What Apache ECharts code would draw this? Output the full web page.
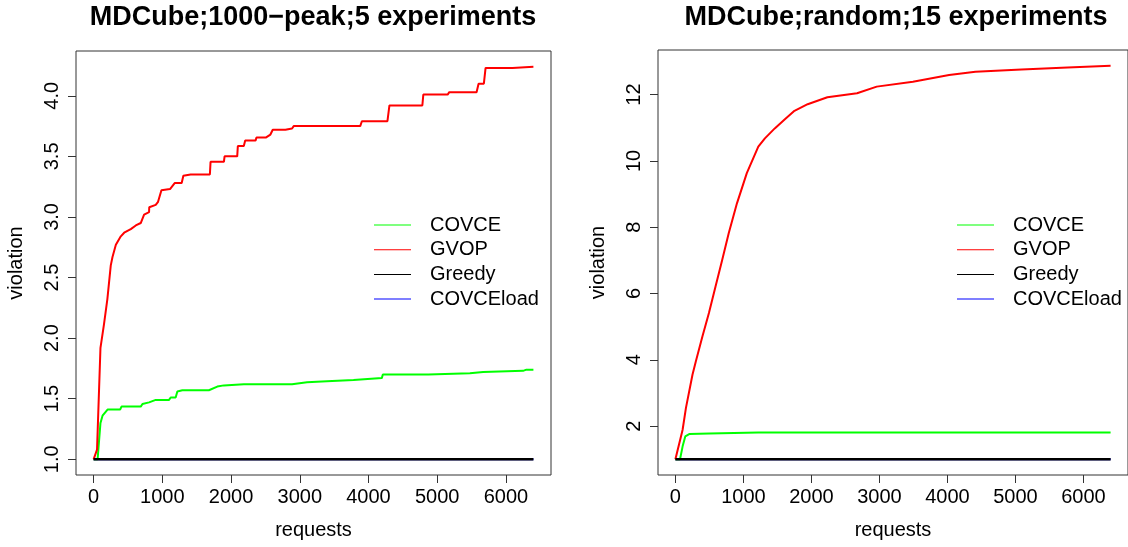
<!DOCTYPE html>
<html>
<head>
<meta charset="utf-8">
<script src="https://cdn.jsdelivr.net/npm/echarts/dist/echarts.min.js"></script>
<style>
  html, body { margin: 0; padding: 0; background: #fff; }
  #chart { width: 1128px; height: 547px; }
</style>
</head>
<body>
<div id="chart"></div>
<script>
// Tick positions for both panels
const requestTicks = [0, 1000, 2000, 3000, 4000, 5000, 6000];
const peakTicks = [1.0, 1.5, 2.0, 2.5, 3.0, 3.5, 4.0];
const randomTicks = [2, 4, 6, 8, 10, 12];

// Panel titles and series names
const titles = ['MDCube;1000\u2212peak;5 experiments', 'MDCube;random;15 experiments'];
const seriesNames = ['COVCE', 'GVOP', 'Greedy', 'COVCEload'];

// 1000-peak workload: [requests, violation]
const peakCovce = [[0, 1.0], [58, 1.0], [100, 1.30], [130, 1.36], [154, 1.375], [203, 1.41], [386, 1.41], [406, 1.435],
  [686, 1.435], [711, 1.456], [807, 1.47], [904, 1.49], [1098, 1.49], [1122, 1.51], [1194, 1.51], [1219, 1.56],
  [1291, 1.57], [1678, 1.57], [1702, 1.585], [1800, 1.60], [1896, 1.61], [2186, 1.62], [2888, 1.62], [3106, 1.635],
  [3396, 1.645], [3782, 1.655], [3807, 1.67], [4194, 1.67], [4209, 1.70], [4871, 1.70], [4896, 1.71], [5476, 1.71],
  [5501, 1.72], [5669, 1.72], [5694, 1.73], [6250, 1.73], [6299, 1.74], [6400, 1.74]];
const peakGvop = [[0, 1.0], [50, 1.08], [100, 1.92], [150, 2.11], [200, 2.32], [250, 2.60], [275, 2.67], [324, 2.77],
  [396, 2.84], [445, 2.87], [541, 2.90], [614, 2.93], [686, 2.95], [735, 3.02], [807, 3.04], [810, 3.08],
  [904, 3.10], [938, 3.125], [987, 3.22], [1112, 3.23], [1180, 3.28], [1282, 3.28], [1306, 3.34], [1412, 3.35],
  [1692, 3.35], [1702, 3.455], [1896, 3.455], [1906, 3.50], [2090, 3.50], [2099, 3.585], [2186, 3.585], [2206, 3.63],
  [2356, 3.63], [2370, 3.655], [2505, 3.655], [2573, 3.68], [2607, 3.72], [2791, 3.72], [2816, 3.73], [2888, 3.73],
  [2912, 3.75], [3880, 3.75], [3904, 3.79], [4276, 3.79], [4305, 3.92], [4784, 3.92], [4798, 4.01], [5152, 4.01],
  [5176, 4.03], [5573, 4.03], [5602, 4.10], [5679, 4.10], [5704, 4.23], [6096, 4.23], [6114, 4.24], [6400, 4.24]];
const peakGreedy = [[0, 1.0], [6400, 1.0]];
const peakCovceLoad = [[0, 1.0], [6400, 1.0]];

// random workload: [requests, violation]
const randomCovce = [[0, 1.0], [68, 1.0], [106, 1.39], [145, 1.69], [203, 1.76], [500, 1.78], [1219, 1.81], [6400, 1.81]];
const randomGvop = [[0, 1.0], [106, 1.89], [155, 2.55], [251, 3.55], [300, 3.95], [397, 4.70], [493, 5.41], [590, 6.21],
  [687, 7.0], [784, 7.82], [905, 8.72], [1050, 9.63], [1219, 10.43], [1316, 10.68], [1461, 10.98], [1606, 11.25],
  [1751, 11.51], [1945, 11.71], [2235, 11.92], [2671, 12.04], [2961, 12.24], [3493, 12.39], [4025, 12.59],
  [4412, 12.69], [5090, 12.76], [5767, 12.82], [6400, 12.87]];
const randomGreedy = [[0, 1.0], [6400, 1.0]];
const randomCovceLoad = [[0, 1.0], [6400, 1.0]];

const colors = { COVCE: '#00ff00', GVOP: '#ff0000', Greedy: '#000000', COVCEload: '#0000ff' };
const FONT = '"Liberation Sans", Arial, Helvetica, sans-serif';

// Axis range padded 4% on each side of the data extent
function paddedRange(seriesList, dim) {
  let lo = Infinity, hi = -Infinity;
  seriesList.forEach(s => s.forEach(p => { lo = Math.min(lo, p[dim]); hi = Math.max(hi, p[dim]); }));
  const d = (hi - lo) * 0.04;
  return [lo - d, hi + d];
}

const panels = [
  { data: { COVCE: peakCovce, GVOP: peakGvop, Greedy: peakGreedy, COVCEload: peakCovceLoad }, yTicks: peakTicks,
    yFmt: v => v.toFixed(1), grid: { left: 76, top: 51, width: 475, height: 424 }, center: 313, legendLeft: 374 },
  { data: { COVCE: randomCovce, GVOP: randomGvop, Greedy: randomGreedy, COVCEload: randomCovceLoad }, yTicks: randomTicks,
    yFmt: v => String(v), grid: { left: 658, top: 50, width: 476, height: 425 }, center: 896, legendLeft: 957 }
];

const axisText = { fontFamily: FONT, fontSize: 20, color: '#000' };

const option = {
  animation: false,
  backgroundColor: '#fff',
  title: panels.map((p, i) => ({
    text: titles[i], left: p.center, top: 4, textAlign: 'center', padding: 0,
    textStyle: { fontFamily: FONT, fontSize: 27, fontWeight: 'bold', color: '#000' }
  })),
  legend: panels.map((p, i) => ({
    data: seriesNames, orient: 'vertical', left: p.legendLeft, top: 215, padding: 0,
    icon: 'rect', itemWidth: 37, itemHeight: 1, itemGap: 4.7, selectedMode: false,
    textStyle: { fontFamily: FONT, fontSize: 20, color: '#000', lineHeight: 20, padding: [0, 0, 0, 14] }
  })),
  grid: panels.map(p => Object.assign({ show: true, borderColor: '#333', borderWidth: 1, backgroundColor: 'transparent' }, p.grid)),
  xAxis: panels.map((p, i) => {
    const r = paddedRange(Object.values(p.data), 0);
    return {
      type: 'value', gridIndex: i, min: r[0], max: r[1], position: 'bottom',
      name: 'requests', nameLocation: 'middle', nameGap: 45, nameTextStyle: axisText,
      axisLine: { show: false, onZero: false }, splitLine: { show: false },
      axisTick: { show: true, inside: false, length: 8, customValues: requestTicks, lineStyle: { color: '#333' } },
      axisLabel: Object.assign({ customValues: requestTicks, margin: 12, formatter: v => String(v) }, axisText)
    };
  }),
  yAxis: panels.map((p, i) => {
    const r = paddedRange(Object.values(p.data), 1);
    return {
      type: 'value', gridIndex: i, min: r[0], max: r[1], position: 'left',
      name: 'violation', nameLocation: 'middle', nameGap: 50, nameTextStyle: axisText,
      axisLine: { show: false, onZero: false }, splitLine: { show: false },
      axisTick: { show: true, inside: false, length: 8, customValues: p.yTicks, lineStyle: { color: '#333' } },
      axisLabel: Object.assign({ customValues: p.yTicks, margin: 14, rotate: 90, formatter: p.yFmt }, axisText)
    };
  }),
  series: []
};

// Blue drawn first so the black Greedy line sits on top of it
const drawOrder = ['COVCEload', 'COVCE', 'GVOP', 'Greedy'];
panels.forEach((p, i) => {
  drawOrder.forEach((name, k) => {
    option.series.push({
      type: 'line', name: name, xAxisIndex: i, yAxisIndex: i,
      data: p.data[name], symbol: 'none', z: 2 + k,
      color: colors[name],
      lineStyle: { color: colors[name], width: name === 'Greedy' ? 2.5 : 2 }
    });
  });
});

const chart = echarts.init(document.getElementById('chart'), null, { renderer: 'canvas' });
chart.setOption(option);
</script>
</body>
</html>
